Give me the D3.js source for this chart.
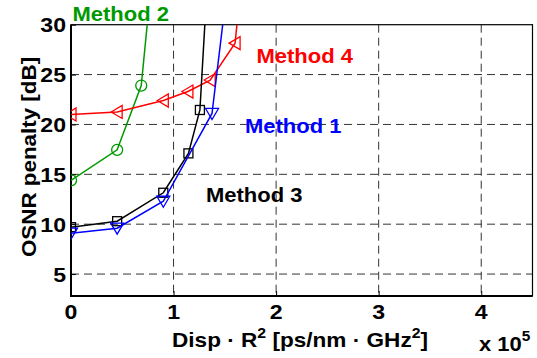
<!DOCTYPE html>
<html>
<head>
<meta charset="utf-8">
<script src="https://cdn.jsdelivr.net/npm/d3@7"></script>
<style>
  body { margin: 0; background: #fff; }
  text { font-family: "Liberation Sans", Arial, Helvetica, sans-serif; font-weight: bold; }
</style>
</head>
<body>
<svg id="chart" width="537" height="358"></svg>
<script>
// values (x in units of 1e5 ps/nm*GHz^2, y in dB)
// last point of each series lies above 30 dB and is clipped like the original
m1X = [0, 0.45, 0.90, 1.375, 1.6];
m1Y = [9.1, 9.6, 12.3, 21.1, 40.3];
m2X = [0, 0.45, 0.685, 0.9];
m2Y = [14.4, 17.45, 23.9, 46.5];
m3X = [0, 0.45, 0.90, 1.145, 1.257, 1.4];
m3Y = [9.7, 10.3, 13.15, 17.1, 21.45, 46.9];
m4X = [0, 0.45, 0.90, 1.14, 1.357, 1.60, 1.8];
m4Y = [21.0, 21.25, 22.4, 23.3, 24.45, 28.15, 48.9];

xTicks = [0, 1, 2, 3, 4];
yTicks = [5, 10, 15, 20, 25, 30];

LEFT = 71; RIGHT = 532.5; TOP = 24.7; BOTTOM = 296;
STRETCH = 1.1;

svg = d3.select("#chart");
x = d3.scaleLinear().domain([0, 4.5]).range([LEFT, RIGHT]);
y = d3.scaleLinear().domain([2.8, 30]).range([BOTTOM, TOP]);

svg.append("clipPath").attr("id", "plotclip")
  .append("rect").attr("x", LEFT).attr("y", TOP)
  .attr("width", RIGHT - LEFT).attr("height", BOTTOM - TOP);

// dashed grid
svg.append("g").selectAll("line").data(xTicks.slice(1)).enter().append("line")
  .attr("x1", d => x(d)).attr("x2", d => x(d))
  .attr("y1", TOP).attr("y2", BOTTOM)
  .attr("stroke", "#333").attr("stroke-width", 1).attr("stroke-dasharray", "8,5");
svg.append("g").selectAll("line").data(yTicks.slice(0, -1)).enter().append("line")
  .attr("x1", LEFT).attr("x2", RIGHT)
  .attr("y1", d => y(d)).attr("y2", d => y(d))
  .attr("stroke", "#333").attr("stroke-width", 1).attr("stroke-dasharray", "8,5");

// axes with inward ticks, MATLAB style
xAxis = d3.axisBottom(x).tickValues(xTicks).tickSize(-5).tickFormat("");
yAxis = d3.axisLeft(y).tickValues(yTicks).tickSize(-5).tickFormat("");
gx = svg.append("g").attr("transform", "translate(0," + BOTTOM + ")").call(xAxis);
gy = svg.append("g").attr("transform", "translate(" + LEFT + ",0)").call(yAxis);
[gx, gy].forEach(g => {
  g.select(".domain").remove();
  g.selectAll("line").attr("stroke", "#000").attr("stroke-width", 1);
});
svg.append("rect").attr("x", LEFT).attr("y", TOP)
  .attr("width", RIGHT - LEFT).attr("height", BOTTOM - TOP)
  .attr("fill", "none").attr("stroke", "#000").attr("stroke-width", 1.2);
svg.append("line").attr("x1", LEFT).attr("x2", LEFT).attr("y1", TOP).attr("y2", BOTTOM + 1)
  .attr("stroke", "#000").attr("stroke-width", 2);
svg.append("line").attr("x1", LEFT).attr("x2", RIGHT).attr("y1", BOTTOM).attr("y2", BOTTOM)
  .attr("stroke", "#000").attr("stroke-width", 2);

function stretchedText(px, py, str, size, anchor, color) {
  return svg.append("text")
    .attr("transform", "translate(" + px + "," + py + ") scale(" + STRETCH + ",1)")
    .attr("text-anchor", anchor)
    .attr("font-size", size + "px")
    .attr("fill", color || "#000")
    .text(str);
}

// tick labels
xTicks.forEach(d => stretchedText(x(d), 319, d, 21, "middle"));
yTicks.forEach(d => stretchedText(66, y(d) + 7.5, d, 21, "end"));

// series
series = [
  { xs: m2X, ys: m2Y, color: "#009a00", marker: "circle" },
  { xs: m4X, ys: m4Y, color: "#ff0000", marker: "left" },
  { xs: m3X, ys: m3Y, color: "#000000", marker: "square" },
  { xs: m1X, ys: m1Y, color: "#0000ff", marker: "down" }
];

plot = svg.append("g").attr("clip-path", "url(#plotclip)");
line = d3.line().x(d => x(d[0])).y(d => y(d[1]));

series.forEach(s => {
  var pts = s.xs.map((v, i) => [v, s.ys[i]]);
  plot.append("path").datum(pts).attr("d", line)
    .attr("fill", "none").attr("stroke", s.color).attr("stroke-width", 1.5);
  var g = plot.append("g").selectAll("g").data(pts).enter().append("g")
    .attr("transform", d => "translate(" + x(d[0]) + "," + y(d[1]) + ")");
  if (s.marker == "circle") {
    g.append("circle").attr("r", 5.5);
  } else if (s.marker == "square") {
    g.append("rect").attr("x", -4.5).attr("y", -4.5).attr("width", 9).attr("height", 9);
  } else if (s.marker == "down") {
    g.append("path").attr("d", "M-6.5,-5 L6.5,-5 L0,6 Z");
  } else if (s.marker == "left") {
    g.append("path").attr("d", "M-6,0 L5,-6.5 L5,6.5 Z");
  }
  g.selectAll("*").attr("fill", "none").attr("stroke", s.color).attr("stroke-width", 1.3);
});

// series labels
stretchedText(72.5, 21, "Method 2", 20, "start", "#009a00");
stretchedText(256.5, 62.5, "Method 4", 20, "start", "#ff0000");
stretchedText(245, 133, "Method 1", 20, "start", "#0000ff");
stretchedText(206, 201.5, "Method 3", 20, "start", "#000");

// axis titles
xl = svg.append("text")
  .attr("transform", "translate(172,347) scale(1.13,1)")
  .attr("font-size", "20px");
xl.append("tspan").text("Disp \u00b7 R");
xl.append("tspan").attr("dy", -9).attr("font-size", "14px").text("2");
xl.append("tspan").attr("dy", 9).text(" [ps/nm \u00b7 GHz");
xl.append("tspan").attr("dy", -9).attr("font-size", "14px").text("2");
xl.append("tspan").attr("dy", 9).text("]");

ex = svg.append("text")
  .attr("transform", "translate(479,351) scale(" + STRETCH + ",1)")
  .attr("font-size", "20px");
ex.append("tspan").text("x 10");
ex.append("tspan").attr("dy", -10).attr("font-size", "14px").text("5");

svg.append("text")
  .attr("transform", "translate(36,157) rotate(-90) scale(1.12,1)")
  .attr("text-anchor", "middle")
  .attr("font-size", "20px")
  .text("OSNR penalty [dB]");
</script>
</body>
</html>
